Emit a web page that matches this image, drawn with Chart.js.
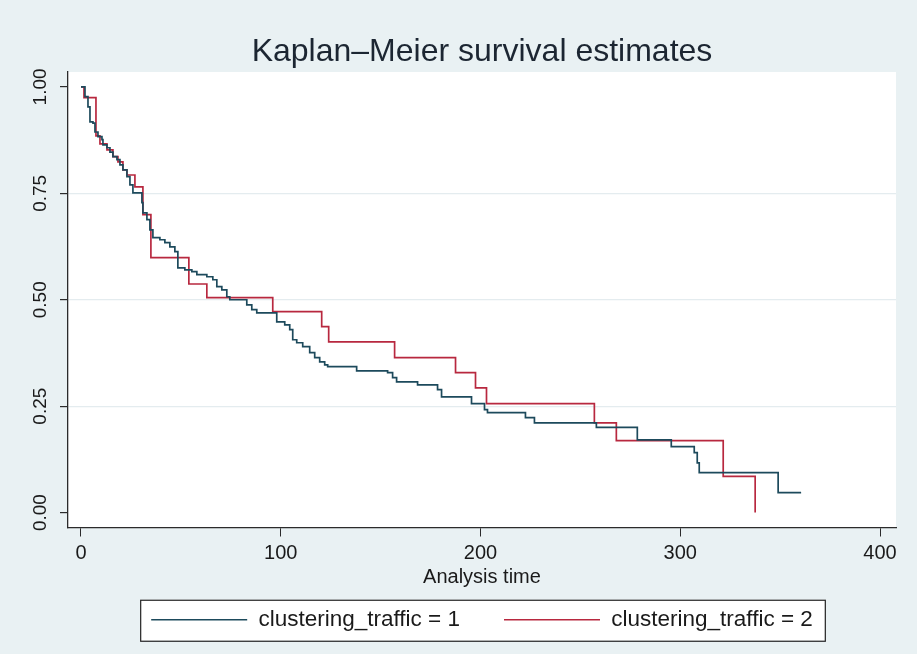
<!DOCTYPE html>
<html lang="en">
<head>
    <meta charset="UTF-8">
    <title>Kaplan-Meier survival estimates</title>
    <script src="https://cdn.jsdelivr.net/npm/chart.js"></script>
    <style>
        body { margin: 0; background: #e9f1f3; }
        canvas { display: block; }
    </style>
</head>
<body>
    <canvas id="kmChart" width="917" height="654"></canvas>

    <script>
        // survival steps per group: time of the step and survival after it
        const group1Time = [0, 2, 3.5, 4.5, 6, 7, 8.5, 10.5, 11, 13, 14.5, 16, 18, 19.5, 21, 23, 24.5, 26,
            30.5, 31, 33, 34.5, 36, 39.5, 42, 44.5, 47, 48.5, 52, 55.5, 58, 63, 66, 68, 70.5, 73, 74.5,
            83, 85.5, 88, 98, 102, 104.5, 106, 108, 111, 114.5, 117, 119.5, 122, 123.5, 138, 153.5, 156,
            158, 168.5, 178.5, 180.5, 195.5, 202, 203.5, 222.5, 227, 258, 278.5, 295.5, 307, 308.5, 309.5,
            349, 360.5];
        const group1Surv = [1.000, 0.977, 0.953, 0.918, 0.915, 0.894, 0.883, 0.876, 0.864, 0.857, 0.847,
            0.836, 0.829, 0.817, 0.805, 0.789, 0.770, 0.751, 0.728, 0.704, 0.688, 0.664, 0.646, 0.641,
            0.634, 0.624, 0.613, 0.575, 0.570, 0.566, 0.559, 0.554, 0.547, 0.531, 0.523, 0.507, 0.500,
            0.488, 0.477, 0.469, 0.448, 0.441, 0.430, 0.406, 0.399, 0.390, 0.376, 0.364, 0.354, 0.347,
            0.343, 0.333, 0.329, 0.317, 0.307, 0.300, 0.289, 0.272, 0.256, 0.242, 0.235, 0.223, 0.211,
            0.200, 0.171, 0.155, 0.141, 0.117, 0.094, 0.047, 0.047];

        const group2Time = [0, 1.5, 7.5, 9.5, 13, 16, 18.5, 21, 23, 27, 31, 35, 54, 63, 96, 120.5, 124,
            157, 187.5, 197.5, 203, 257, 268, 321.5, 337.5];
        const group2Surv = [1.000, 0.975, 0.885, 0.866, 0.852, 0.836, 0.824, 0.805, 0.793, 0.765, 0.700,
            0.599, 0.537, 0.505, 0.472, 0.437, 0.401, 0.364, 0.329, 0.293, 0.256, 0.211, 0.169, 0.085, 0.000];

        const seriesNames = ['clustering_traffic = 1', 'clustering_traffic = 2'];
        const xTicks = [0, 100, 200, 300, 400];
        const yTicks = [0, 0.25, 0.5, 0.75, 1];

        const fontFamily = "'Liberation Sans', Arial, sans-serif";

        function toPoints(times, surv) {
            return times.map((t, i) => ({ x: t, y: surv[i] }));
        }

        // light outer region, white plot region, framed legend
        const backdrop = {
            id: 'backdrop',
            beforeDraw(chart) {
                const { ctx, chartArea: a, width, height } = chart;
                ctx.save();
                ctx.fillStyle = '#e9f1f3';
                ctx.fillRect(0, 0, width, height);
                ctx.fillStyle = '#ffffff';
                ctx.fillRect(a.left, a.top, a.right - a.left, a.bottom - a.top);
                const boxes = chart.legend.legendHitBoxes || [];
                if (boxes.length) {
                    const first = boxes[0];
                    const last = boxes[boxes.length - 1];
                    const x0 = first.left - 11;
                    const x1 = last.left + last.width + 12;
                    const yMid = first.top + first.height / 2;
                    ctx.fillRect(x0, yMid - 20, x1 - x0, 41);
                    ctx.strokeStyle = '#222';
                    ctx.lineWidth = 1.2;
                    ctx.strokeRect(x0 + 0.5, yMid - 20 + 0.5, x1 - x0, 41);
                }
                ctx.restore();
            }
        };

        new Chart(document.getElementById('kmChart'), {
            type: 'line',
            data: {
                datasets: [{
                    label: seriesNames[0],
                    data: toPoints(group1Time, group1Surv),
                    borderColor: '#1d4a5c',
                    backgroundColor: '#1d4a5c',
                    borderWidth: 1.7,
                    stepped: 'before',
                    pointRadius: 0,
                    fill: false
                }, {
                    label: seriesNames[1],
                    data: toPoints(group2Time, group2Surv),
                    borderColor: '#b8283f',
                    backgroundColor: '#b8283f',
                    borderWidth: 1.7,
                    stepped: 'before',
                    pointRadius: 0,
                    fill: false
                }]
            },
            plugins: [backdrop],
            options: {
                responsive: false,
                devicePixelRatio: 1,
                animation: false,
                layout: { padding: { left: 0, right: 21, top: 0, bottom: 13 } },
                plugins: {
                    title: {
                        display: true,
                        fullSize: false,
                        text: 'Kaplan\u2013Meier survival estimates',
                        color: '#1c2632',
                        font: { family: fontFamily, size: 32, weight: 'normal', lineHeight: 1.2 },
                        padding: { top: 33, bottom: 0.6 }
                    },
                    legend: {
                        position: 'bottom',
                        fullSize: false,
                        labels: {
                            boxWidth: 96,
                            boxHeight: 0,
                            padding: 44,
                            color: '#1a1a1a',
                            font: { family: fontFamily, size: 22.5 }
                        }
                    },
                    tooltip: { enabled: false }
                },
                scales: {
                    x: {
                        type: 'linear',
                        min: -6.5,
                        max: 408,
                        afterBuildTicks: scale => { scale.ticks = xTicks.map(v => ({ value: v })); },
                        afterFit: scale => { scale.height = 37; },
                        border: { display: true, color: '#2b2b2b', width: 1.3 },
                        grid: { drawOnChartArea: false, drawTicks: true, tickLength: 9, tickColor: '#2b2b2b' },
                        ticks: {
                            color: '#1a1a1a',
                            padding: 5,
                            maxRotation: 0,
                            font: { family: fontFamily, size: 20 }
                        },
                        title: {
                            display: true,
                            text: 'Analysis time',
                            color: '#1a1a1a',
                            font: { family: fontFamily, size: 20 },
                            padding: { top: 0, bottom: -25 }
                        }
                    },
                    y: {
                        type: 'linear',
                        min: -0.035,
                        max: 1.035,
                        afterBuildTicks: scale => { scale.ticks = yTicks.map(v => ({ value: v })); },
                        afterFit: scale => { scale.width = 68; },
                        border: { display: true, color: '#2b2b2b', width: 1.3 },
                        grid: {
                            drawTicks: true,
                            tickLength: 8,
                            tickColor: '#2b2b2b',
                            color: c => (c.tick && c.tick.value > 0 && c.tick.value < 1) ? '#e4ecef' : 'rgba(0,0,0,0)',
                            lineWidth: 1.2
                        },
                        ticks: {
                            color: '#1a1a1a',
                            padding: 1,
                            crossAlign: 'center',
                            minRotation: 90,
                            maxRotation: 90,
                            font: { family: fontFamily, size: 19 },
                            callback: v => Number(v).toFixed(2)
                        }
                    }
                }
            }
        });
    </script>
</body>
</html>
